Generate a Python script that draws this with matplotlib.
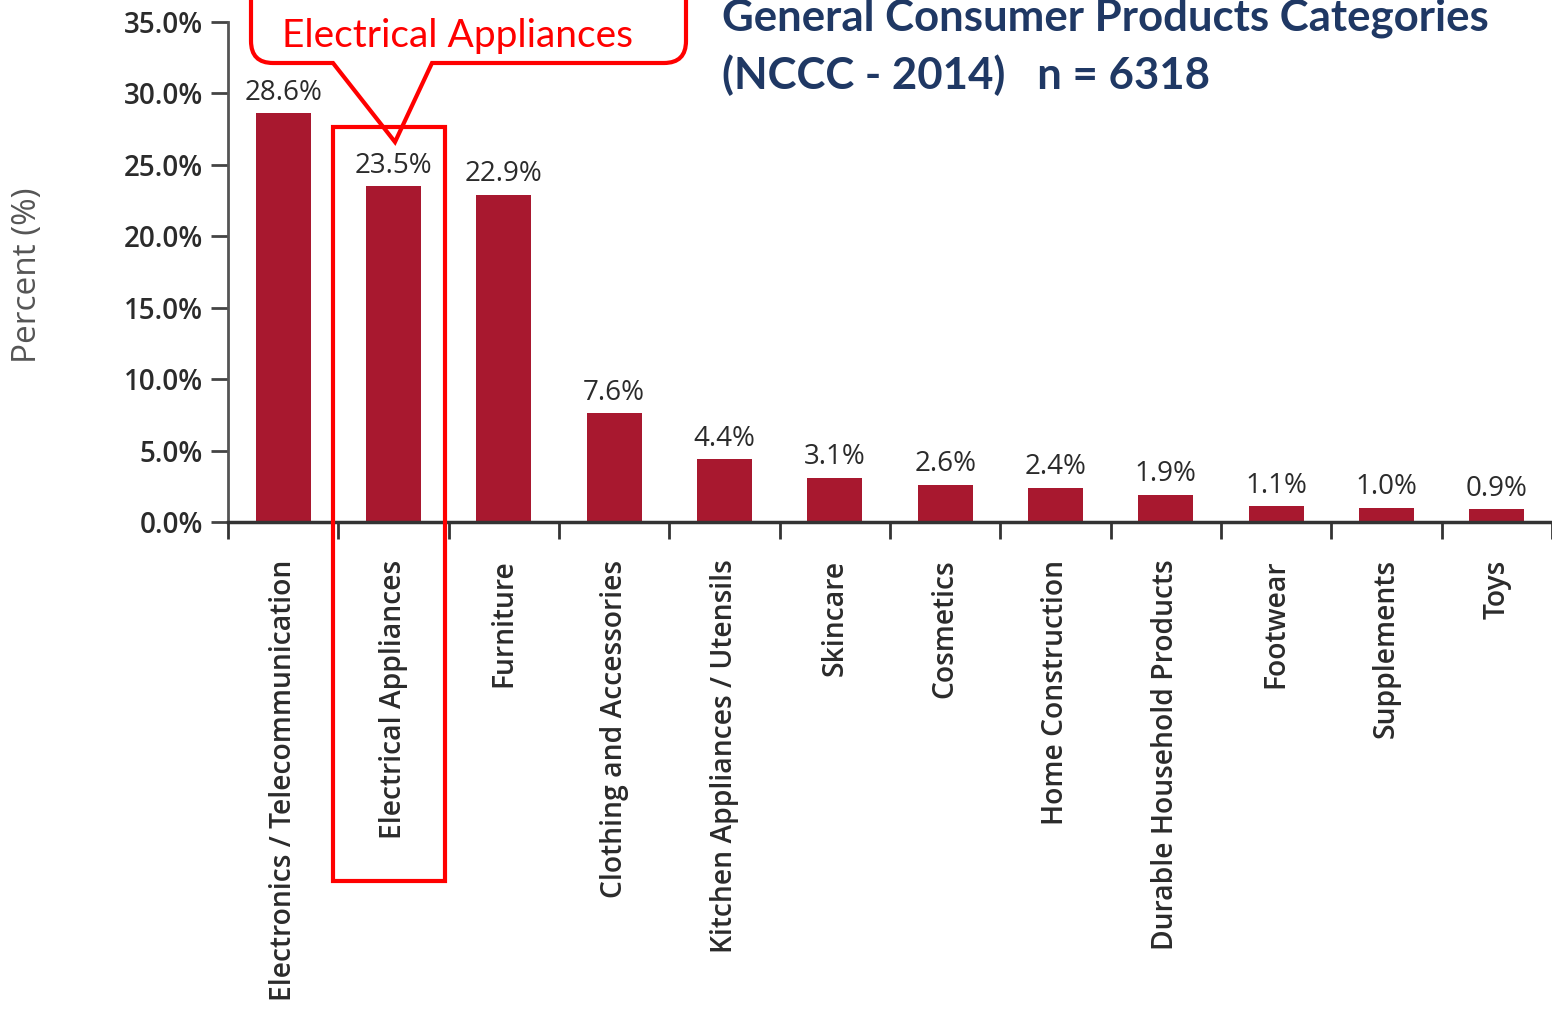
import numpy as np
import matplotlib
matplotlib.use('Agg')
import matplotlib.pyplot as plt
from matplotlib.path import Path
from matplotlib.patches import PathPatch, Rectangle

# data
categories = ['Electronics / Telecommunication', 'Electrical Appliances', 'Furniture',
              'Clothing and Accessories', 'Kitchen Appliances / Utensils', 'Skincare',
              'Cosmetics', 'Home Construction', 'Durable Household Products',
              'Footwear', 'Supplements', 'Toys']
percents = [28.6, 23.5, 22.9, 7.6, 4.4, 3.1, 2.6, 2.4, 1.9, 1.1, 1.0, 0.9]
yticks = [0, 5, 10, 15, 20, 25, 30, 35]
title_lines = ['General Consumer Products Categories', '(NCCC - 2014)   n = 6318']
callout_text = 'Electrical Appliances'

W, H = 1552, 1015
BAR = '#A8182F'
TXT = '#2b2b2b'
NAVY = '#1F3864'
RED = '#FF0000'


def fx(x):
    return x / W


def fy(y):
    return 1 - y / H


fig = plt.figure(figsize=(W / 100, H / 100), dpi=100)
ax = fig.add_axes([fx(228), fy(522), 1 - fx(228), fy(22) - fy(522)])

x = np.arange(len(categories))
ax.bar(x, percents, width=0.5, color=BAR, zorder=2)
for xi, v in zip(x, percents):
    ax.text(xi, v + 0.45, f'{v:.1f}%', ha='center', va='bottom',
            fontsize=20, color=TXT, family='Open Sans')

ax.set_xlim(-0.5, len(categories) - 0.5)
ax.set_ylim(0, 35)
ax.set_yticks(yticks)
ax.set_yticklabels([f'{t:.1f}%' for t in yticks], fontsize=20, color=TXT,
                   family='Open Sans', fontweight='semibold')
ax.tick_params(axis='y', direction='out', length=12, width=2, color='#444', pad=6)

ax.set_xticks(x)
ax.set_xticklabels(categories, rotation=90, fontsize=20.3, color=TXT,
                   family='Open Sans', fontweight='semibold', va='top', ha='center')
ax.tick_params(axis='x', which='major', length=0, pad=27)
ax.set_xticks(np.arange(-0.5, len(categories), 1.0), minor=True)
ax.tick_params(axis='x', which='minor', direction='out', length=12, width=2, color='#333')

for s in ['top', 'right']:
    ax.spines[s].set_visible(False)
ax.spines['left'].set_color('#555')
ax.spines['left'].set_linewidth(2)
ax.spines['bottom'].set_color('#333')
ax.spines['bottom'].set_linewidth(2.5)

fig.text(fx(28), fy(275), 'Percent (%)', rotation=90, ha='center', va='center',
         fontsize=24, color='#555', family='Open Sans')

# title
fig.text(fx(722), fy(18), title_lines[0], ha='left', va='center', fontsize=31.5,
         color=NAVY, family='Lato', fontweight='bold')
fig.text(fx(722), fy(75), title_lines[1], ha='left', va='center', fontsize=31.5,
         color=NAVY, family='Lato', fontweight='bold')

# callout bubble (top edge runs off the figure)
r = 22
L, R, B = 251, 686, 63
pts = [(L, -20), (L, B - r), (L, B), (L + r, B), (333, B), (395, 142), (432, B),
       (R - r, B), (R, B), (R, B - r), (R, -20)]
codes = [Path.MOVETO, Path.LINETO, Path.CURVE3, Path.CURVE3, Path.LINETO, Path.LINETO,
         Path.LINETO, Path.LINETO, Path.CURVE3, Path.CURVE3, Path.LINETO]
path = Path([(fx(a), fy(b)) for a, b in pts], codes)
fig.patches.append(PathPatch(path, transform=fig.transFigure, facecolor='white',
                             edgecolor=RED, lw=3, zorder=5, joinstyle='miter'))
fig.text(fx(457), fy(36), callout_text, ha='center', va='center', fontsize=28,
         color=RED, family='Lato', zorder=6)

# highlight box around the Electrical Appliances column
fig.patches.append(Rectangle((fx(333), fy(881)), fx(445) - fx(333), fy(127) - fy(881),
                             transform=fig.transFigure, fill=False, edgecolor=RED,
                             lw=3, zorder=5))

fig.savefig('out.png', dpi=100)
